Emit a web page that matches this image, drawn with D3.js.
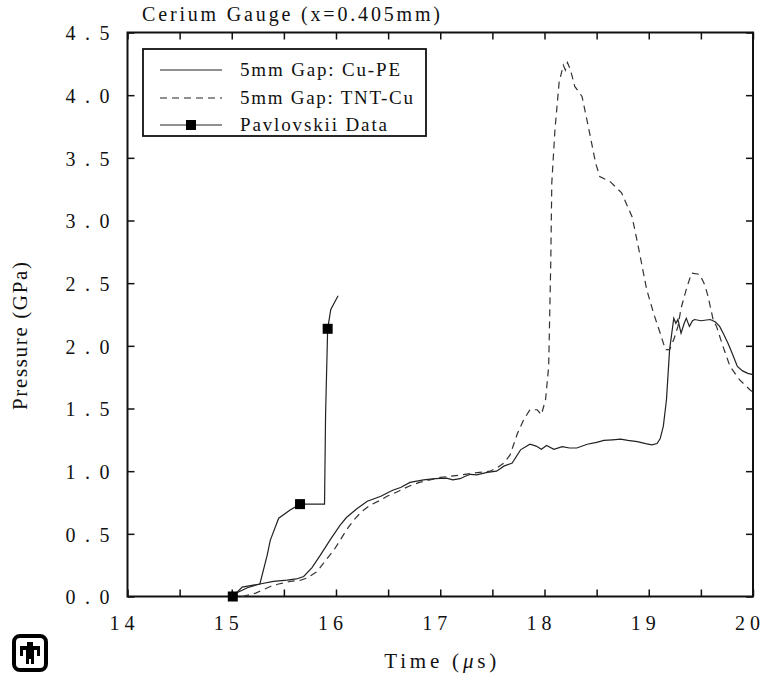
<!DOCTYPE html>
<html>
<head>
<meta charset="utf-8">
<script src="https://cdn.jsdelivr.net/npm/d3@7"></script>
<style>
  body { margin: 0; background: #fff; }
  svg { display: block; }
  text { font-family: "Liberation Serif", "DejaVu Serif", serif; fill: #111; }
</style>
</head>
<body>
<svg id="chart" width="760" height="681"></svg>
<script>
// 5mm Gap: Cu-PE (solid)
const cuPeTime = [15.01,15.05,15.15,15.27,15.40,15.53,15.62,15.69,15.77,15.85,15.95,16.04,16.10,16.20,16.30,16.43,16.50,16.55,16.62,16.71,16.84,16.95,17.06,17.12,17.19,17.24,17.29,17.35,17.45,17.54,17.61,17.69,17.77,17.86,17.92,17.97,18.02,18.09,18.17,18.24,18.31,18.41,18.50,18.57,18.65,18.73,18.80,18.89,18.97,19.03,19.08,19.11,19.14,19.17,19.20,19.24,19.26,19.28,19.31,19.34,19.36,19.39,19.42,19.44,19.50,19.59,19.64,19.68,19.72,19.76,19.80,19.85,19.90,19.95,20.0];
const cuPeP    = [0.0,0.03,0.07,0.10,0.12,0.13,0.14,0.16,0.23,0.33,0.46,0.57,0.63,0.70,0.76,0.80,0.83,0.85,0.87,0.91,0.93,0.94,0.945,0.93,0.94,0.96,0.975,0.97,0.99,1.0,1.04,1.065,1.17,1.215,1.20,1.175,1.205,1.175,1.195,1.185,1.185,1.215,1.23,1.245,1.25,1.255,1.245,1.235,1.22,1.21,1.22,1.26,1.36,1.57,1.97,2.22,2.18,2.21,2.10,2.18,2.22,2.155,2.20,2.21,2.20,2.21,2.19,2.155,2.09,2.02,1.94,1.835,1.80,1.78,1.77];

// 5mm Gap: TNT-Cu (dashed)
const tntCuTime = [15.10,15.23,15.37,15.45,15.56,15.66,15.72,15.82,15.88,15.98,16.04,16.10,16.17,16.25,16.33,16.43,16.49,16.60,16.70,16.80,16.90,17.00,17.10,17.20,17.32,17.48,17.55,17.61,17.67,17.74,17.80,17.86,17.93,17.97,18.01,18.04,18.05,18.06,18.07,18.10,18.14,18.18,18.20,18.22,18.25,18.29,18.36,18.42,18.49,18.53,18.63,18.74,18.84,18.90,18.98,19.05,19.11,19.16,19.20,19.24,19.28,19.31,19.36,19.41,19.49,19.54,19.57,19.62,19.65,19.71,19.78,19.87,19.97,20.0];
const tntCuP    = [0.0,0.027,0.08,0.10,0.12,0.13,0.147,0.20,0.266,0.37,0.45,0.53,0.61,0.68,0.73,0.77,0.80,0.84,0.88,0.91,0.93,0.95,0.96,0.97,0.985,1.0,1.03,1.065,1.13,1.30,1.41,1.49,1.49,1.45,1.57,1.835,2.25,2.66,3.30,3.72,4.10,4.24,4.20,4.26,4.20,4.07,3.99,3.75,3.46,3.35,3.31,3.22,3.03,2.79,2.45,2.25,2.10,1.97,1.97,2.05,2.155,2.30,2.45,2.58,2.57,2.48,2.39,2.20,2.155,2.0,1.835,1.73,1.65,1.63];

// Pavlovskii Data (line + squares)
const pavTime = [15.01,15.10,15.27,15.34,15.37,15.45,15.56,15.655,15.89,15.90,15.92,15.95,16.02];
const pavP    = [0.0,0.075,0.10,0.33,0.45,0.625,0.69,0.737,0.737,1.45,2.136,2.29,2.40];
const markTime = [15.01,15.655,15.92];
const markP    = [0.0,0.737,2.136];

const xTicks = [14,14.5,15,15.5,16,16.5,17,17.5,18,18.5,19,19.5,20];
const yTicks = [0,0.5,1,1.5,2,2.5,3,3.5,4,4.5];

const legendNames = ["5mm Gap: Cu-PE", "5mm Gap: TNT-Cu", "Pavlovskii Data"];

const plotL = 127.5, plotR = 753, plotT = 32.5, plotB = 596.5;

const svg = d3.select("#chart");
const x = d3.scaleLinear().domain([14, 20]).range([plotL, plotR]);
const y = d3.scaleLinear().domain([0, 4.5]).range([plotB, plotT]);

const spaced = s => String(s).split("").join(" ");

// axes, ticks inward on all four sides
svg.append("g").attr("transform", `translate(0,${plotB})`)
  .call(d3.axisBottom(x).tickValues(xTicks).tickSize(-7).tickSizeOuter(0)
    .tickFormat(d => Number.isInteger(d) ? spaced(d) : ""))
  .call(g => g.select(".domain").remove())
  .call(g => g.selectAll("text").attr("y", 33).attr("dy", 0).attr("dx", -6)
    .attr("font-size", 20).attr("font-family", "Liberation Serif").attr("fill", "#111")
    .attr("textLength", d => Number.isInteger(d) ? 25 : null).attr("lengthAdjust", "spacing"));

svg.append("g").attr("transform", `translate(0,${plotT})`)
  .call(d3.axisTop(x).tickValues(xTicks).tickSize(-7).tickFormat(""))
  .call(g => g.select(".domain").remove());

svg.append("g").attr("transform", `translate(${plotL},0)`)
  .call(d3.axisLeft(y).tickValues(yTicks).tickSize(-7).tickSizeOuter(0)
    .tickFormat(d => spaced(d3.format(".1f")(d))))
  .call(g => g.select(".domain").remove())
  .call(g => g.selectAll("text").attr("x", -18).attr("dy", "0.36em")
    .attr("font-size", 20).attr("font-family", "Liberation Serif").attr("fill", "#111")
    .attr("textLength", 44).attr("lengthAdjust", "spacing"));

svg.append("g").attr("transform", `translate(${plotR},0)`)
  .call(d3.axisRight(y).tickValues(yTicks).tickSize(-7).tickFormat(""))
  .call(g => g.select(".domain").remove());

svg.selectAll(".tick line").attr("stroke", "#111").attr("stroke-width", 1.5);

svg.append("rect")
  .attr("x", plotL).attr("y", plotT)
  .attr("width", plotR - plotL).attr("height", plotB - plotT)
  .attr("fill", "none").attr("stroke", "#111").attr("stroke-width", 2);

// curves
const line = d3.line().x(d => x(d[0])).y(d => y(d[1]));

svg.append("path")
  .datum(d3.zip(cuPeTime, cuPeP))
  .attr("d", line)
  .attr("fill", "none").attr("stroke", "#222").attr("stroke-width", 1.2);

svg.append("path")
  .datum(d3.zip(tntCuTime, tntCuP))
  .attr("d", line)
  .attr("fill", "none").attr("stroke", "#333").attr("stroke-width", 1.2)
  .attr("stroke-dasharray", "7,5");

svg.append("path")
  .datum(d3.zip(pavTime, pavP))
  .attr("d", line)
  .attr("fill", "none").attr("stroke", "#222").attr("stroke-width", 1.2);

svg.selectAll(".mark")
  .data(d3.zip(markTime, markP))
  .join("rect")
  .attr("class", "mark")
  .attr("x", d => x(d[0]) - 5).attr("y", d => y(d[1]) - 5)
  .attr("width", 10).attr("height", 10)
  .attr("fill", "#000");

// legend
const lg = svg.append("g");
lg.append("rect")
  .attr("x", 143).attr("y", 49).attr("width", 283).attr("height", 87)
  .attr("fill", "#fff").attr("stroke", "#111").attr("stroke-width", 1.8);

const rowY = [70, 98, 125];
const textLen = [160, 173, 147];
legendNames.forEach((name, i) => {
  const l = lg.append("line")
    .attr("x1", 160).attr("x2", 222).attr("y1", rowY[i]).attr("y2", rowY[i])
    .attr("stroke", "#222").attr("stroke-width", 1.2);
  if (i === 1) l.attr("stroke-dasharray", "7,5");
  if (i === 2) {
    lg.append("rect").attr("x", 186).attr("y", rowY[i] - 5)
      .attr("width", 10).attr("height", 10).attr("fill", "#000");
  }
  lg.append("text")
    .attr("x", 240).attr("y", rowY[i] + 6)
    .attr("font-size", 19)
    .attr("textLength", textLen[i]).attr("lengthAdjust", "spacing")
    .text(name);
});

// title and axis titles
svg.append("text")
  .attr("x", 142).attr("y", 21)
  .attr("font-size", 20)
  .attr("textLength", 298).attr("lengthAdjust", "spacing")
  .text("Cerium Gauge (x=0.405mm)");

svg.append("text")
  .attr("transform", "translate(27,336) rotate(-90)")
  .attr("text-anchor", "middle")
  .attr("font-size", 21)
  .attr("textLength", 148).attr("lengthAdjust", "spacing")
  .text("Pressure (GPa)");

const xl = svg.append("text")
  .attr("x", (plotL + plotR) / 2).attr("y", 668)
  .attr("text-anchor", "middle")
  .attr("font-size", 21)
  .attr("textLength", 112).attr("lengthAdjust", "spacing");
xl.append("tspan").text("Time (");
xl.append("tspan").attr("font-style", "italic").text("\u03bc");
xl.append("tspan").text("s)");

// logo
const logo = svg.append("g").attr("transform", "translate(12,634)");
logo.append("rect")
  .attr("x", 2).attr("y", 2).attr("width", 32).attr("height", 34).attr("rx", 6)
  .attr("fill", "#fff").attr("stroke", "#000").attr("stroke-width", 4);
logo.append("path")
  .attr("d", "M15,8 H21 V12 H28 V22 H25 V16 H22 V30 H19 V25 H17 V30 H14 V16 H11 V22 H8 V12 H15 Z")
  .attr("fill", "#000");
</script>
</body>
</html>
